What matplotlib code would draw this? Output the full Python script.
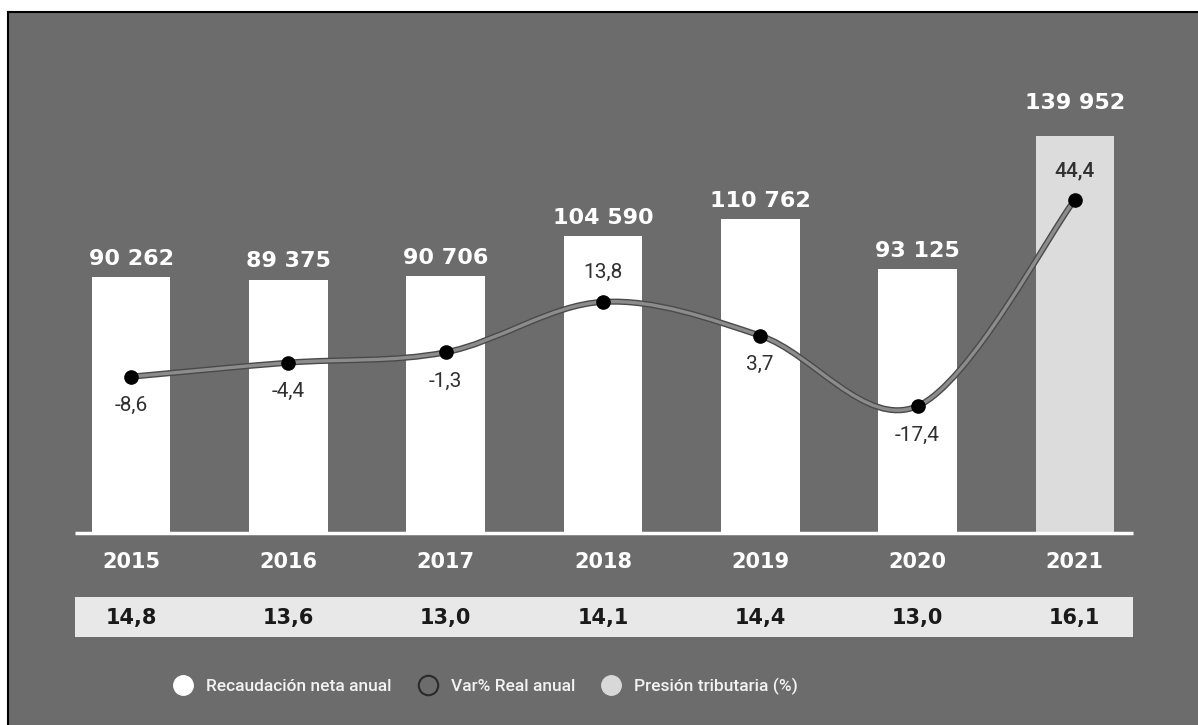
import numpy as np
import matplotlib
matplotlib.use("Agg")
import matplotlib.pyplot as plt
from matplotlib.path import Path
from matplotlib.patches import PathPatch, Rectangle
from matplotlib.lines import Line2D
import matplotlib.patheffects as pe

# data
years = ["2015", "2016", "2017", "2018", "2019", "2020", "2021"]
recaudacion = [90262, 89375, 90706, 104590, 110762, 93125, 139952]
var_real = [-8.6, -4.4, -1.3, 13.8, 3.7, -17.4, 44.4]
presion = [14.8, 13.6, 13.0, 14.1, 14.4, 13.0, 16.1]

BG = "#6c6c6c"
W, H = 1198, 725

fig = plt.figure(figsize=(W / 100, H / 100), dpi=100)
fig.patch.set_facecolor("white")

# gray panel with black border on top and left
fig.patches.append(Rectangle((8 / W, 0), 1, 1 - 12 / H, transform=fig.transFigure,
                             facecolor=BG, edgecolor="none", zorder=-5))
fig.lines.append(Line2D([8 / W, 1], [1 - 12 / H, 1 - 12 / H], transform=fig.transFigure,
                        color="black", lw=1.5, zorder=-4))
fig.lines.append(Line2D([8 / W, 8 / W], [0, 1 - 12 / H], transform=fig.transFigure,
                        color="black", lw=1.5, zorder=-4))

ax = fig.add_axes([0, 0, 1, 1])
ax.set_facecolor("none")
ax.set_xlim(-0.833, 6.783)
ax.set_ylim(-67700, 187940)
ax.axis("off")

x = np.arange(len(years))
colors = ["white"] * (len(years) - 1) + ["#dcdcdc"]
ax.bar(x, recaudacion, width=0.5, color=colors, zorder=2)
ax.plot([-0.356, 6.37], [0, 0], color="white", lw=2.5, zorder=3, solid_capstyle="butt")

for i, v in enumerate(recaudacion):
    off = 24 if i == len(years) - 1 else 13
    ax.annotate(f"{v:,}".replace(",", " "), (x[i], v), xytext=(0, off),
                textcoords="offset points", ha="center", va="center",
                fontsize=16, fontweight="bold", color="white", zorder=5)

# years and presion tributaria band
tr = ax.get_xaxis_transform()
for i, yr in enumerate(years):
    ax.text(x[i], (H - 562) / H, yr, transform=tr, ha="center", va="center",
            fontsize=15, fontweight="bold", color="white")
ax.add_patch(Rectangle((-0.356, (H - 637) / H), 6.726, 40 / H, transform=tr,
                       facecolor="#e8e8e8", edgecolor="none", zorder=1))
for i, p in enumerate(presion):
    ax.text(x[i], (H - 618) / H, f"{p:.1f}".replace(".", ","), transform=tr,
            ha="center", va="center", fontsize=15, fontweight="bold",
            color="#1a1a1a", zorder=3)

# smooth var% line on twin axis
ax2 = ax.twinx()
ax2.set_position([0, 0, 1, 1])
ax2.set_xlim(ax.get_xlim())
ax2.set_ylim(-112.9, 104.2)
ax2.axis("off")

pts = np.column_stack([x, var_real]).astype(float)
verts = [pts[0]]
codes = [Path.MOVETO]
n = len(pts)
for i in range(n - 1):
    p0 = pts[i - 1] if i > 0 else pts[i]
    p1, p2 = pts[i], pts[i + 1]
    p3 = pts[i + 2] if i + 2 < n else pts[i + 1]
    verts += [p1 + (p2 - p0) / 6, p2 - (p3 - p1) / 6, p2]
    codes += [Path.CURVE4] * 3
curve = PathPatch(Path(verts, codes), facecolor="none", edgecolor="#8c8c8c", lw=2.4,
                  transform=ax2.transData, zorder=4,
                  path_effects=[pe.Stroke(linewidth=4.4, foreground="#4a4a4a"), pe.Normal()])
ax2.add_patch(curve)
ax2.plot(x, var_real, "o", color="black", markersize=9.5, zorder=5)

for i, v in enumerate(var_real):
    above = i in (3, 6)
    ax2.annotate(f"{v:.1f}".replace(".", ","), (x[i], v), xytext=(0, 21 if above else -21),
                 textcoords="offset points", ha="center", va="center", fontsize=15,
                 family=["Roboto", "DejaVu Sans"],
                 fontweight="medium" if i == 6 else "normal",
                 color="#303030", zorder=6)

# legend
handles = [
    Line2D([], [], ls="none", marker="o", markersize=14, markerfacecolor="white",
           markeredgecolor="white"),
    Line2D([], [], ls="none", marker="o", markersize=14, markerfacecolor=BG,
           markeredgecolor="#2a2a2a", markeredgewidth=1.5),
    Line2D([], [], ls="none", marker="o", markersize=14, markerfacecolor="#d8d8d8",
           markeredgecolor="#d8d8d8"),
]
labels = ["Recaudación neta anual", "Var% Real anual", "Presión tributaria (%)"]
leg = ax.legend(handles, labels, loc="center", bbox_to_anchor=(482 / W, 39 / H),
                ncol=3, frameon=False, handletextpad=0.3, columnspacing=1.1,
                prop={"family": "Roboto", "size": 12.5, "weight": "medium"})
for t in leg.get_texts():
    t.set_color("#f2f2f2")

fig.savefig("out.png", dpi=100, facecolor=fig.get_facecolor())
